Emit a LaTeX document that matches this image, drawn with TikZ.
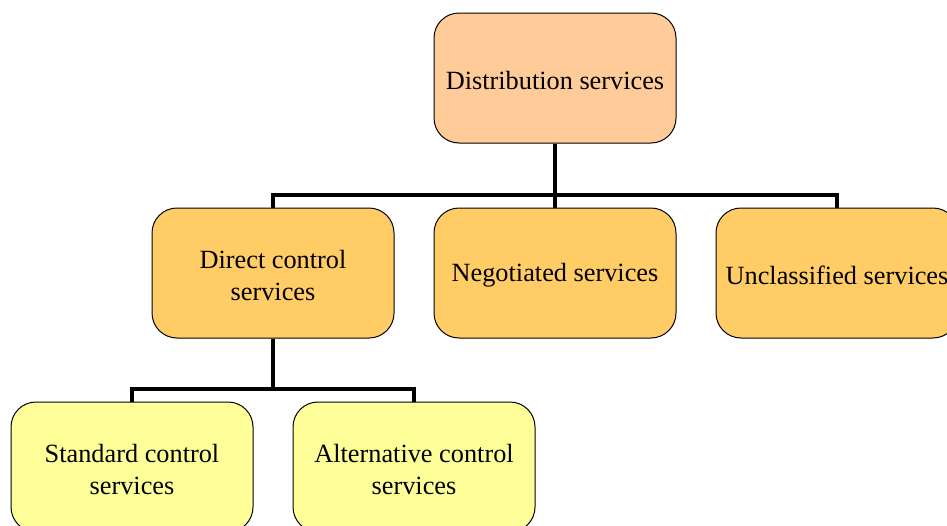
\documentclass[tikz,border=0pt]{standalone}
\usepackage{fontspec}
\setmainfont{Liberation Serif}
\definecolor{peach}{HTML}{FFCC99}
\definecolor{midc}{HTML}{FFCC66}
\definecolor{lowc}{HTML}{FFFF99}
\begin{document}
\begin{tikzpicture}[x=1pt,y=-1pt,
  box/.style={draw=black,line width=1pt,rounded corners=25pt,minimum width=242pt,minimum height=130pt,inner sep=0pt,
    label={[align=center,yshift=-2.5pt,font=\fontsize{26.3}{32}\selectfont]center:#1}},
  conn/.style={line width=3.4pt}]
\useasboundingbox (0,0) rectangle (947,525);
\clip (0,0) rectangle (947,525);
\node[box={Distribution services},fill=peach] (ds) at (555,78) {};
\node[box={Direct control\\services},fill=midc] (dc) at (273,273) {};
\node[box={Negotiated services},fill=midc] (ns) at (555,273) {};
\node[box={Unclassified services},fill=midc] (us) at (837,273) {};
\node[box={Standard control\\services},fill=lowc] (sc) at (132,467) {};
\node[box={Alternative control\\services},fill=lowc] (ac) at (414,467) {};
\coordinate (b1) at (555,195);
\coordinate (b2) at (273,389);
\draw[conn] (ds.south) -- (b1);
\draw[conn] (b1) -- (ns.north);
\draw[conn] (b1) -| (dc.north);
\draw[conn] (b1) -| (us.north);
\draw[conn] (dc.south) -- (b2);
\draw[conn] (b2) -| (sc.north);
\draw[conn] (b2) -| (ac.north);
\end{tikzpicture}
\end{document}
